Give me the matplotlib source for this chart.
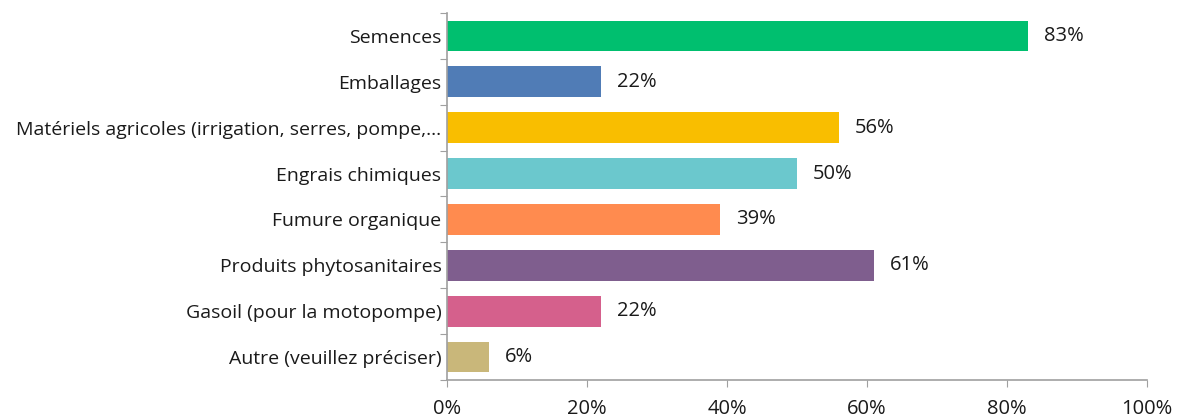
import numpy as np
import matplotlib.pyplot as plt
from matplotlib.ticker import FixedLocator, PercentFormatter

plt.rcParams['font.family'] = ['Open Sans', 'DejaVu Sans']

categories = ['Semences', 'Emballages',
              'Matériels agricoles (irrigation, serres, pompe,...',
              'Engrais chimiques', 'Fumure organique',
              'Produits phytosanitaires', 'Gasoil (pour la motopompe)',
              'Autre (veuillez préciser)']
values = [83, 22, 56, 50, 39, 61, 22, 6]
colors = ['#00BF6F', '#507CB6', '#F9BE00', '#6BC8CD', '#FF8B4F',
          '#7F5E8E', '#D5608C', '#C9B77A']

fig = plt.figure(figsize=(11.77, 4.16), dpi=100)
ax = fig.add_axes([0.3798, 0.0865, 0.5947, 0.8823])

y = np.arange(len(categories))
ax.barh(y, values, height=0.67, color=colors)

for yi, v in zip(y, values):
    ax.text(v + 2.3, yi, f'{v}%', va='center', ha='left', fontsize=14.5,
            color='#1a1a1a')

ax.set_xlim(0, 100)
ax.set_ylim(len(categories) - 0.5, -0.5)
ax.set_xticks(np.arange(0, 101, 20))
ax.xaxis.set_major_formatter(PercentFormatter(decimals=0))

# ticks on category boundaries, labels at bar centres
ax.yaxis.set_major_locator(FixedLocator(np.arange(-0.5, len(categories), 1)))
ax.yaxis.set_major_formatter(plt.NullFormatter())
ax.yaxis.set_minor_locator(FixedLocator(y))
ax.set_yticklabels(categories, minor=True)
ax.tick_params(axis='y', which='minor', length=0, pad=4, labelsize=14,
               labelcolor='#1a1a1a')
ax.tick_params(axis='y', which='major', length=5, color='#A0A0A0')
ax.tick_params(axis='x', length=5, color='#A0A0A0', labelsize=14.5,
               pad=9, labelcolor='#1a1a1a')

for side in ['top', 'right']:
    ax.spines[side].set_visible(False)
for side in ['left', 'bottom']:
    ax.spines[side].set_color('#A0A0A0')
    ax.spines[side].set_linewidth(1.2)

fig.savefig('out.png', dpi=100)
